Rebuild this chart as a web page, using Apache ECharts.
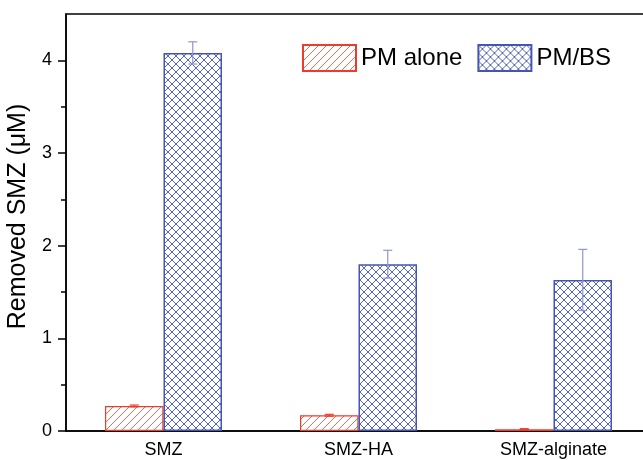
<!DOCTYPE html>
<html>
<head>
<meta charset="utf-8">
<script src="https://cdn.jsdelivr.net/npm/echarts@6/dist/echarts.min.js"></script>
<style>
  html, body { margin: 0; padding: 0; background: #fff; }
  #main { width: 643px; height: 460px; }
</style>
</head>
<body>
<div id="main"></div>
<script>
// data
var categories = ['SMZ', 'SMZ-HA', 'SMZ-alginate'];
var pmAlone = [0.27, 0.17, 0.02];
var pmAloneErr = [0.01, 0.01, 0.005];
var pmBs = [4.08, 1.80, 1.63];
var pmBsErr = [0.12, 0.15, 0.33];
var yTicks = [0, 1, 2, 3, 4];
var yMinorTicks = [0.5, 1.5, 2.5, 3.5];

// hatch patterns
function hatch(color, cross) {
    var s = 8;
    var c = document.createElement('canvas');
    c.width = s; c.height = s;
    var ctx = c.getContext('2d');
    ctx.fillStyle = '#fff';
    ctx.fillRect(0, 0, s, s);
    ctx.strokeStyle = color;
    ctx.lineWidth = 1;
    ctx.beginPath();
    ctx.moveTo(0, s); ctx.lineTo(s, 0);
    ctx.moveTo(-1, 1); ctx.lineTo(1, -1);
    ctx.moveTo(s - 1, s + 1); ctx.lineTo(s + 1, s - 1);
    if (cross) {
        ctx.moveTo(0, 0); ctx.lineTo(s, s);
        ctx.moveTo(-1, s - 1); ctx.lineTo(1, s + 1);
        ctx.moveTo(s - 1, -1); ctx.lineTo(s + 1, 1);
    }
    ctx.stroke();
    return { image: c, repeat: 'repeat' };
}

// error bars drawn at the bar centre (offset is a fraction of the band)
function errBar(offset, color) {
    return function (params, api) {
        var i = api.value(0), v = api.value(1), e = api.value(2);
        var band = api.size([1, 0])[0];
        var x = api.coord([i, v])[0] + offset * band;
        var top = api.coord([i, v + e])[1];
        var bot = api.coord([i, v - e])[1];
        var hw = 4.5;
        var st = { stroke: color, lineWidth: 1.2 };
        return {
            type: 'group',
            children: [
                { type: 'line', shape: { x1: x, y1: top, x2: x, y2: bot }, style: st },
                { type: 'line', shape: { x1: x - hw, y1: top, x2: x + hw, y2: top }, style: st },
                { type: 'line', shape: { x1: x - hw, y1: bot, x2: x + hw, y2: bot }, style: st }
            ]
        };
    };
}

var font = 'Liberation Sans, Arial, sans-serif';
var myChart = echarts.init(document.getElementById('main'));

var option = {
    animation: false,
    textStyle: { fontFamily: font, color: '#000' },
    grid: {
        left: 66, width: 585, top: 14, bottom: 29,
        outerBoundsMode: 'none',
        show: true, borderColor: '#000', borderWidth: 1.5
    },
    legend: {
        data: ['PM alone', 'PM/BS'],
        left: 297, top: 39,
        itemWidth: 53, itemHeight: 26, itemGap: 15,
        icon: 'rect',
        textStyle: { fontSize: 24, color: '#000', fontFamily: font }
    },
    xAxis: {
        type: 'category',
        data: categories,
        axisLine: { lineStyle: { color: '#000', width: 1.5 } },
        axisTick: { show: false },
        axisLabel: { fontSize: 18, color: '#000', margin: 10 }
    },
    yAxis: [
        {
            type: 'value',
            min: 0, max: 4.5,
            name: 'Removed SMZ (μM)',
            nameLocation: 'middle',
            nameGap: 33,
            nameTextStyle: { fontSize: 25, color: '#000', padding: [0, 0, 0, 12] },
            axisLine: { show: true, lineStyle: { color: '#000', width: 1.5 } },
            axisTick: { show: true, length: 8, customValues: yTicks, lineStyle: { color: '#000', width: 1.5 } },
            axisLabel: { fontSize: 18, color: '#000', margin: 14, customValues: yTicks },
            splitLine: { show: false }
        },
        {
            type: 'value',
            min: 0, max: 4.5,
            position: 'left',
            axisLine: { show: false },
            axisTick: { show: true, length: 5, customValues: yMinorTicks, lineStyle: { color: '#000', width: 1.5 } },
            axisLabel: { show: false },
            splitLine: { show: false }
        }
    ],
    series: [
        {
            name: 'PM alone',
            type: 'bar',
            data: pmAlone,
            barWidth: '30%',
            barGap: '0%',
            itemStyle: { color: hatch('#f36a55', false), borderColor: '#ef3b2c', borderWidth: 1.2 }
        },
        {
            name: 'PM/BS',
            type: 'bar',
            data: pmBs,
            barWidth: '30%',
            barGap: '0%',
            itemStyle: { color: hatch('#5566c2', true), borderColor: '#4455b5', borderWidth: 1.5 }
        },
        {
            type: 'custom',
            z: 5,
            renderItem: errBar(-0.15, '#ef3b2c'),
            encode: { x: 0, y: 1 },
            data: pmAlone.map(function (v, i) { return [i, v, pmAloneErr[i]]; })
        },
        {
            type: 'custom',
            z: 5,
            renderItem: errBar(0.15, '#8f96d2'),
            encode: { x: 0, y: 1 },
            data: pmBs.map(function (v, i) { return [i, v, pmBsErr[i]]; })
        }
    ]
};

myChart.setOption(option);
window.onresize = function () {
    myChart.resize();
};
</script>
</body>
</html>
